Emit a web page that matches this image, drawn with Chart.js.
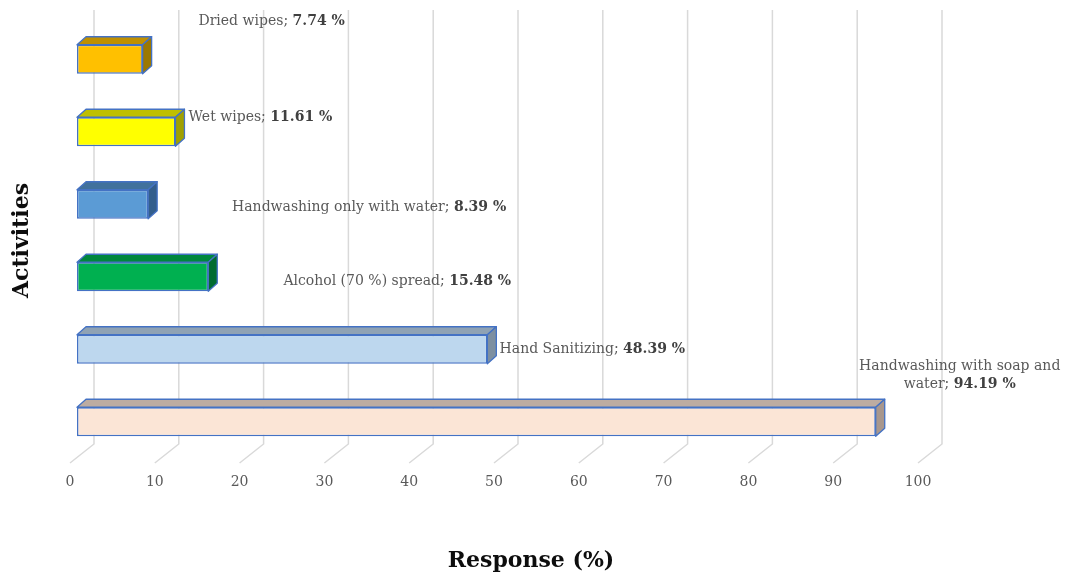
<!DOCTYPE html>
<html>
<head>
<meta charset="utf-8">
<script src="https://cdn.jsdelivr.net/npm/chart.js@4.4.1/dist/chart.umd.min.js"></script>
<style>
  html, body { margin: 0; padding: 0; background: #ffffff; }
  #wrap { width: 1071px; height: 577px; }
</style>
</head>
<body>
<div id="wrap"><canvas id="chart" width="1071" height="577"></canvas></div>
<script>
// Hand hygiene activities, listed top to bottom
const activities = [
  'Dried wipes',
  'Wet wipes',
  'Handwashing only with water',
  'Alcohol (70 %) spread',
  'Hand Sanitizing',
  'Handwashing with soap and water'
];
// Share of respondents (%)
const responses = [7.74, 11.61, 8.39, 15.48, 48.39, 94.19];
// Response axis ticks
const responseTicks = [0, 10, 20, 30, 40, 50, 60, 70, 80, 90, 100];

// Front, top and side face colours of each box
const frontColors = ['#FFC000', '#FFFF00', '#5B9BD5', '#00B050', '#BDD7EE', '#FBE5D6'];
const topColors   = ['#C09000', '#BFBF00', '#41719C', '#00873D', '#8FA2B4', '#BDACA1'];
const sideColors  = ['#9C7800', '#A0A000', '#335E8C', '#006B30', '#7D8FA0', '#A8978D'];

const SERIF = "'DejaVu Serif', 'Liberation Serif', serif";

// Draws the perspective wall/floor grid, the box tops/sides, the data callouts
// and the response axis title
const bar3d = {
  id: 'bar3d',
  beforeDatasetsDraw(chart, args, o) {
    const ctx = chart.ctx;
    const xs = chart.scales.x;
    ctx.save();
    ctx.strokeStyle = o.gridColor;
    ctx.lineWidth = 1.5;
    xs.ticks.forEach(t => {
      const px = xs.getPixelForValue(t.value);
      ctx.beginPath();
      ctx.moveTo(px + o.backShift, o.wallTop);
      ctx.lineTo(px + o.backShift, o.wallBottom);
      ctx.lineTo(px + o.frontShift, o.floorFront);
      ctx.stroke();
    });
    ctx.restore();
  },
  afterDatasetsDraw(chart, args, o) {
    const ctx = chart.ctx;
    const meta = chart.getDatasetMeta(0);
    const dx = o.depthX, dy = o.depthY;
    ctx.save();
    ctx.lineJoin = 'round';
    ctx.strokeStyle = o.edgeColor;
    ctx.lineWidth = 1.3;
    meta.data.forEach((bar, i) => {
      const x0 = bar.base, x1 = bar.x;
      const yT = bar.y - bar.height / 2, yB = bar.y + bar.height / 2;
      // top face
      ctx.beginPath();
      ctx.moveTo(x0, yT); ctx.lineTo(x1, yT);
      ctx.lineTo(x1 + dx, yT - dy); ctx.lineTo(x0 + dx, yT - dy);
      ctx.closePath();
      ctx.fillStyle = topColors[i]; ctx.fill(); ctx.stroke();
      // side face
      ctx.beginPath();
      ctx.moveTo(x1, yT); ctx.lineTo(x1 + dx, yT - dy);
      ctx.lineTo(x1 + dx, yB - dy); ctx.lineTo(x1, yB);
      ctx.closePath();
      ctx.fillStyle = sideColors[i]; ctx.fill(); ctx.stroke();
    });

    // data callouts: "name; value %" with the value in bold
    const regFont = `${o.labelSize}px ${SERIF}`;
    const boldFont = `bold ${o.labelSize}px ${SERIF}`;
    ctx.textBaseline = 'middle';
    ctx.textAlign = 'left';
    meta.data.forEach((bar, i) => {
      const words = activities[i].split(' ').map(w => ({ t: w, b: false }));
      words[words.length - 1].t += ';';
      words.push({ t: responses[i].toFixed(2) + ' %', b: true });
      const maxW = o.wrapWidth[i] || 10000;
      const space = () => { ctx.font = regFont; return ctx.measureText(' ').width; };
      const wW = w => { ctx.font = w.b ? boldFont : regFont; return ctx.measureText(w.t).width; };
      const lines = [];
      let cur = [], curW = 0;
      words.forEach(w => {
        const ww = wW(w);
        const add = cur.length ? space() + ww : ww;
        if (cur.length && curW + add > maxW) {
          lines.push({ words: cur, w: curW });
          cur = [w]; curW = ww;
        } else { cur.push(w); curW += add; }
      });
      lines.push({ words: cur, w: curW });
      const [ox, oy] = o.offsets[i];
      const cx = bar.x + ox;
      const cy = bar.y + oy;
      const lh = o.labelSize * 1.3;
      lines.forEach((ln, k) => {
        let x = cx - ln.w / 2;
        const y = cy + (k - (lines.length - 1) / 2) * lh;
        ln.words.forEach((w, j) => {
          if (j > 0) x += space();
          ctx.font = w.b ? boldFont : regFont;
          ctx.fillStyle = w.b ? '#404040' : '#595959';
          ctx.fillText(w.t, x, y);
          x += ctx.measureText(w.t).width;
        });
      });
    });
    ctx.restore();
  },
  afterDraw(chart, args, o) {
    const ctx = chart.ctx;
    ctx.save();
    ctx.font = `bold 22px ${SERIF}`;
    ctx.fillStyle = '#0D0D0D';
    ctx.textAlign = 'center';
    ctx.textBaseline = 'middle';
    ctx.fillText(o.xTitle, o.xTitlePos[0], o.xTitlePos[1]);
    ctx.restore();
  }
};

new Chart(document.getElementById('chart'), {
  type: 'bar',
  data: {
    labels: activities,
    datasets: [{
      data: responses,
      backgroundColor: frontColors,
      borderColor: '#4472C4',
      borderWidth: 1.5,
      borderSkipped: false,
      categoryPercentage: 1,
      barPercentage: 0.4
    }]
  },
  options: {
    indexAxis: 'y',
    responsive: false,
    animation: false,
    layout: { padding: { left: 0, right: 146, top: 23, bottom: 0 } },
    plugins: {
      legend: { display: false },
      tooltip: { enabled: false },
      bar3d: {
        gridColor: '#D9D9D9',
        edgeColor: '#4472C4',
        backShift: 17,
        frontShift: -7,
        wallTop: 10,
        wallBottom: 444,
        floorFront: 463,
        depthX: 9,
        depthY: 8,
        labelSize: 14,
        wrapWidth: [0, 0, 0, 0, 0, 225],
        offsets: [[129, -37.5], [85, -14], [221, 3], [189, 4.5], [105, 0], [84, -46.5]],
        xTitle: 'Response (%)',
        xTitlePos: [531, 561]
      }
    },
    scales: {
      x: {
        min: 0,
        max: 100,
        afterBuildTicks: s => { s.ticks = responseTicks.map(v => ({ value: v })); },
        afterFit: s => { s.height = 119; },
        grid: { display: false, drawTicks: false },
        border: { display: false },
        ticks: {
          padding: 16,
          labelOffset: -7,
          color: '#595959',
          font: { family: SERIF, size: 14 }
        }
      },
      y: {
        afterFit: s => { s.width = 77; },
        grid: { display: false, drawTicks: false },
        border: { display: false },
        ticks: { display: false },
        title: {
          display: true,
          text: 'Activities',
          color: '#0D0D0D',
          padding: { top: 9, bottom: 0 },
          font: { family: SERIF, size: 22, weight: 'bold' }
        }
      }
    }
  },
  plugins: [bar3d]
});
</script>
</body>
</html>
